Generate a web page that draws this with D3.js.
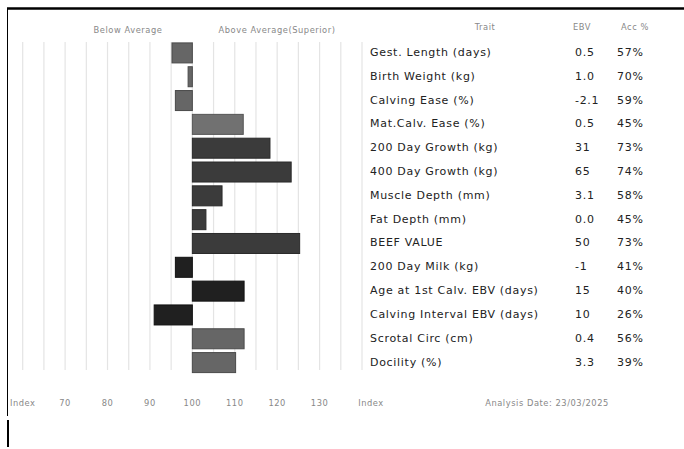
<!DOCTYPE html>
<html><head><meta charset="utf-8">
<script src="https://cdn.jsdelivr.net/npm/d3@7"></script>
<style>body{margin:0;background:#fff}svg{display:block}</style>
</head><body>
<svg id="c" width="684" height="449"></svg>
<script>
const traits = ["Gest. Length (days)","Birth Weight (kg)","Calving Ease (%)","Mat.Calv. Ease (%)","200 Day Growth (kg)","400 Day Growth (kg)","Muscle Depth (mm)","Fat Depth (mm)","BEEF VALUE","200 Day Milk (kg)","Age at 1st Calv. EBV (days)","Calving Interval EBV (days)","Scrotal Circ (cm)","Docility (%)"];
const indexValues = [95.2, 99, 96, 112, 118.3, 123.3, 107, 103.2, 125.3, 96, 112.2, 91, 112.2, 110.2];
const ebv = ["0.5","1.0","-2.1","0.5","31","65","3.1","0.0","50","-1","15","10","0.4","3.3"];
const acc = ["57%","70%","59%","45%","73%","74%","58%","45%","73%","41%","40%","26%","56%","39%"];
const groups = ["calving","calving","calving","calving2","growth","growth","growth","growth","growth","maternal","maternal","maternal","other","other"];
const tickLabels = ["Index","70","80","90","100","110","120","130","Index"];
const tickValues = [60,70,80,90,100,110,120,130,140];
const gridValues = d3.range(60,141,5);
const baseline = 100;

const svg = d3.select("#c");
const x = d3.scaleLinear().domain([60,140]).range([22.7,362]);
const y = d3.scaleBand().domain(traits).range([41,374.5]).paddingInner(0.16).paddingOuter(0.08);
const fill = d3.scaleOrdinal().domain(["calving","calving2","growth","maternal","other"]).range(["#666666","#717171","#3b3b3b","#202020","#666666"]);
const stroke = d3.scaleOrdinal().domain(["calving","calving2","growth","maternal","other"]).range(["#4a4a4a","#555","#2a2a2a","#111","#4a4a4a"]);
const font = "'DejaVu Sans', sans-serif";
const small = {fill:"#888","font-size":"8.3px","font-family":font,"letter-spacing":"0.55px"};

// border
svg.append("line").attr("x1",7).attr("x2",684).attr("y1",8.5).attr("y2",8.5).attr("stroke","#000").attr("stroke-width",2.5);
svg.append("line").attr("x1",7.5).attr("x2",7.5).attr("y1",8).attr("y2",416).attr("stroke","#000").attr("stroke-width",1);
svg.append("line").attr("x1",8).attr("x2",8).attr("y1",420).attr("y2",447).attr("stroke","#000").attr("stroke-width",2);

// grid
svg.append("g").selectAll("line").data(gridValues).join("line")
  .attr("x1",d=>x(d)).attr("x2",d=>x(d)).attr("y1",42).attr("y2",370)
  .attr("stroke","#e4e4e4").attr("stroke-width",1.2);

// bars
svg.append("g").selectAll("rect").data(traits).join("rect")
  .attr("x",(d,i)=>x(Math.min(indexValues[i],baseline)))
  .attr("width",(d,i)=>Math.abs(x(indexValues[i])-x(baseline)))
  .attr("y",d=>y(d)).attr("height",y.bandwidth())
  .attr("fill",(d,i)=>fill(groups[i])).attr("stroke",(d,i)=>stroke(groups[i])).attr("stroke-width",1);

function t(g, txt, xx, yy, attrs, anchor){ const e=g.append("text").attr("x",xx).attr("y",yy).attr("text-anchor",anchor||"start").text(txt); for(const k in attrs) e.attr(k,attrs[k]); return e; }
t(svg,"Below Average",128,33,small,"middle");
t(svg,"Above Average(Superior)",277,33,small,"middle");
t(svg,"Trait",485,30,small,"middle");
t(svg,"EBV",582,30,small,"middle");
t(svg,"Acc %",635,30,small,"middle");

// table
const row = svg.append("g").selectAll("g").data(traits).join("g")
  .attr("transform",d=>`translate(0,${y(d)+y.bandwidth()/2+3})`);
function cell(sel, xx, fn){ sel.append("text").attr("x",xx).text(fn).attr("fill","#222").attr("font-size","11px").attr("letter-spacing","0.7px").attr("font-family",font); }
cell(row,370,d=>d);
cell(row,575,(d,i)=>ebv[i]);
cell(row,617,(d,i)=>acc[i]);

// x tick labels
svg.append("g").selectAll("text").data(tickValues).join("text")
  .attr("x",(d,i)=> i===tickValues.length-1 ? x(d)+9 : x(d)).attr("y",406)
  .attr("text-anchor","middle").attr("fill",small.fill).attr("font-size",small["font-size"]).attr("font-family",font).attr("letter-spacing",small["letter-spacing"])
  .text((d,i)=>tickLabels[i]);
t(svg,"Analysis Date: 23/03/2025",547,406,small,"middle");
</script>
</body></html>
